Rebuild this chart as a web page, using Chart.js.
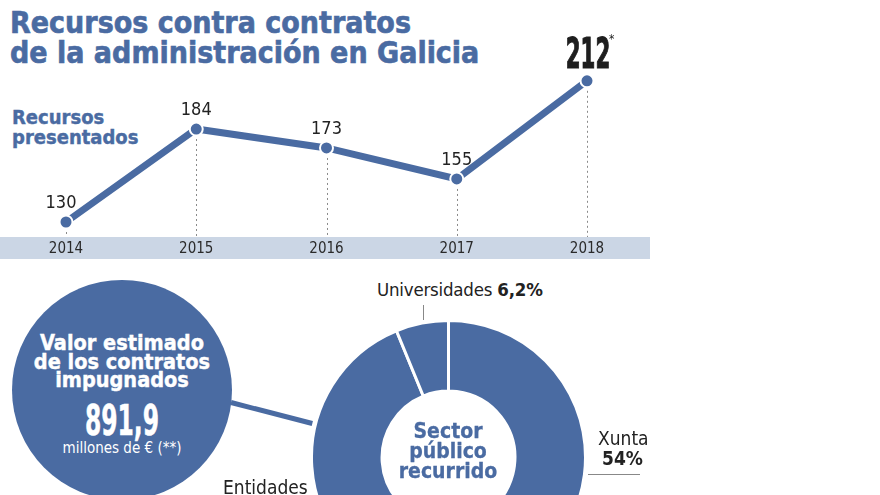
<!DOCTYPE html>
<html>
<head>
<meta charset="utf-8">
<script src="https://cdn.jsdelivr.net/npm/chart.js@4.4.1/dist/chart.umd.min.js"></script>
<style>
  html, body { margin: 0; padding: 0; background: #fff; width: 880px; height: 495px; overflow: hidden; }
  body { position: relative; font-family: 'DejaVu Sans Condensed', 'Liberation Sans Narrow', 'DejaVu Sans', sans-serif; }
  .abs { position: absolute; white-space: nowrap; }
  #title { left: 10px; top: 8px; font-size: 30px; line-height: 30px; font-weight: bold; color: #4a6ba2; -webkit-text-stroke: 0.6px #4a6ba2; }
  #sub { left: 12px; top: 107px; font-size: 20px; line-height: 20px; font-weight: bold; color: #4a6ba2; -webkit-text-stroke: 0.4px #4a6ba2; }
  #lineWrap { position: absolute; left: 0; top: 0; width: 880px; height: 265px; }
  #pieWrap { position: absolute; left: 309.5px; top: 318.5px; width: 277px; height: 277px; }
  #bigCircle { position: absolute; left: 12px; top: 280px; width: 220px; height: 220px; border-radius: 50%; background: #4a6ba2; }
  #connector { position: absolute; left: 231px; top: 400px; width: 84px; height: 5px; background: #4a6ba2; transform-origin: 0 50%; transform: rotate(14.5deg); }
  .ctext { position: absolute; left: 12px; width: 220px; text-align: center; color: #fff; }
  #c1 { top: 334px; font-size: 21.5px; line-height: 18.5px; font-weight: bold; -webkit-text-stroke: 0.4px #fff; }
  #c2 { top: 399px; font-size: 42px; line-height: 44px; font-weight: bold; transform: scaleX(0.62); -webkit-text-stroke: 0.5px #fff; }
  #c3 { top: 440px; font-size: 15px; line-height: 16px; }
  .lbl { position: absolute; white-space: nowrap; color: #222; font-size: 18px; line-height: 20px; }
  #uni { left: 377px; top: 280px; font-size: 18.5px; letter-spacing: -0.2px; }
  #uniTick { position: absolute; left: 423px; top: 305px; width: 1px; height: 15px; background: #888; }
  #xunta { left: 598px; top: 428px; font-size: 19px; }
  #xunta b { margin-left: 4px; }
  #xuntaLine { position: absolute; left: 588px; top: 474px; width: 52px; height: 1px; background: #888; }
  #ent { left: 223px; top: 477px; font-size: 19px; }
  .center { position: absolute; left: 378px; width: 140px; top: 421px; text-align: center; color: #4a6ba2; font-weight: bold; font-size: 21px; line-height: 20px; -webkit-text-stroke: 0.3px #4a6ba2; }
</style>
</head>
<body>
<div id="title" class="abs">Recursos contra contratos<br>de la administración en Galicia</div>
<div id="sub" class="abs">Recursos<br>presentados</div>
<div id="lineWrap"><canvas id="lineChart"></canvas></div>

<div id="bigCircle"></div>
<div id="connector"></div>
<div id="c1" class="ctext">Valor estimado<br>de los contratos<br>impugnados</div>
<div id="c2" class="ctext">891,9</div>
<div id="c3" class="ctext">millones de € (**)</div>

<div id="pieWrap"><canvas id="pieChart"></canvas></div>
<div class="center">Sector<br>público<br>recurrido</div>
<div id="uni" class="lbl">Universidades <b>6,2%</b></div>
<div id="uniTick"></div>
<div id="xunta" class="lbl">Xunta<br><b>54%</b></div>
<div id="xuntaLine"></div>
<div id="ent" class="lbl">Entidades</div>

<script>
// ---- data ----
const years = ['2014', '2015', '2016', '2017', '2018'];
const recursos = [130, 184, 173, 155, 212];
const sectorLabels = ['Xunta', 'Entidades', 'Universidades'];
const sectorShares = [54, 39.8, 6.2];

const BLUE = '#4a6ba2';
const FONT = "'DejaVu Sans Condensed', 'Liberation Sans Narrow', 'DejaVu Sans', sans-serif";

const linePlugin = {
  id: 'decor',
  beforeDraw(chart) {
    const ctx = chart.ctx;
    const area = chart.chartArea;
    ctx.save();
    ctx.fillStyle = '#cbd6e5';
    ctx.fillRect(0, area.bottom - 1, 650, 22);
    // dashed drop lines
    const meta = chart.getDatasetMeta(0);
    ctx.strokeStyle = '#8a8a8a';
    ctx.lineWidth = 1;
    ctx.setLineDash([2, 3]);
    meta.data.forEach(pt => {
      ctx.beginPath();
      ctx.moveTo(Math.round(pt.x) + 0.5, pt.y);
      ctx.lineTo(Math.round(pt.x) + 0.5, area.bottom - 1);
      ctx.stroke();
    });
    ctx.restore();
  },
  afterDraw(chart) {
    const ctx = chart.ctx;
    const meta = chart.getDatasetMeta(0);
    ctx.save();
    meta.data.forEach((pt, i) => {
      const v = recursos[i];
      if (i === recursos.length - 1) {
        ctx.save();
        ctx.translate(pt.x + 1, pt.y - 13);
        ctx.scale(0.55, 1);
        ctx.font = 'bold 43px ' + FONT;
        ctx.fillStyle = '#1e1e1e';
        ctx.strokeStyle = '#1e1e1e';
        ctx.lineWidth = 1.2;
        ctx.textAlign = 'center';
        ctx.textBaseline = 'alphabetic';
        ctx.fillText(String(v), 0, 0);
        ctx.strokeText(String(v), 0, 0);
        ctx.restore();
        ctx.font = '12px ' + FONT;
        ctx.fillStyle = '#1e1e1e';
        ctx.textAlign = 'left';
        ctx.fillText('*', pt.x + 22, pt.y - 38);
      } else {
        ctx.font = '18px ' + FONT;
        ctx.fillStyle = '#222';
        ctx.textAlign = 'center';
        ctx.textBaseline = 'alphabetic';
        const dx = i === 0 ? -5 : 0;
        ctx.fillText(String(v), pt.x + dx, pt.y - 14);
      }
    });
    ctx.restore();
  }
};

new Chart(document.getElementById('lineChart'), {
  type: 'line',
  data: {
    labels: years,
    datasets: [{
      data: recursos,
      borderColor: BLUE,
      borderWidth: 7,
      backgroundColor: BLUE,
      pointRadius: 6.5,
      pointBorderColor: '#fff',
      pointBorderWidth: 2,
      pointBackgroundColor: BLUE,
      tension: 0,
      clip: false
    }]
  },
  options: {
    responsive: true,
    maintainAspectRatio: false,
    animation: false,
    events: [],
    layout: { padding: { left: 66, right: 293, top: 40, bottom: 7 } },
    plugins: { legend: { display: false }, tooltip: { enabled: false } },
    scales: {
      x: {
        offset: false,
        grid: { display: false, drawTicks: false },
        border: { display: false },
        ticks: { color: '#2a2a2a', font: { family: FONT, size: 15 }, padding: 2, maxRotation: 0, autoSkip: false },
        afterFit(s) { s.height = 20; }
      },
      y: { display: false, min: 120.71, max: 235.7 }
    }
  },
  plugins: [linePlugin]
});

new Chart(document.getElementById('pieChart'), {
  type: 'doughnut',
  data: {
    labels: sectorLabels,
    datasets: [{
      data: sectorShares,
      backgroundColor: BLUE,
      borderColor: '#fff',
      borderWidth: 3
    }]
  },
  options: {
    responsive: true,
    maintainAspectRatio: false,
    animation: false,
    events: [],
    cutout: '48.5%',
    plugins: { legend: { display: false }, tooltip: { enabled: false } }
  }
});
</script>
</body>
</html>
